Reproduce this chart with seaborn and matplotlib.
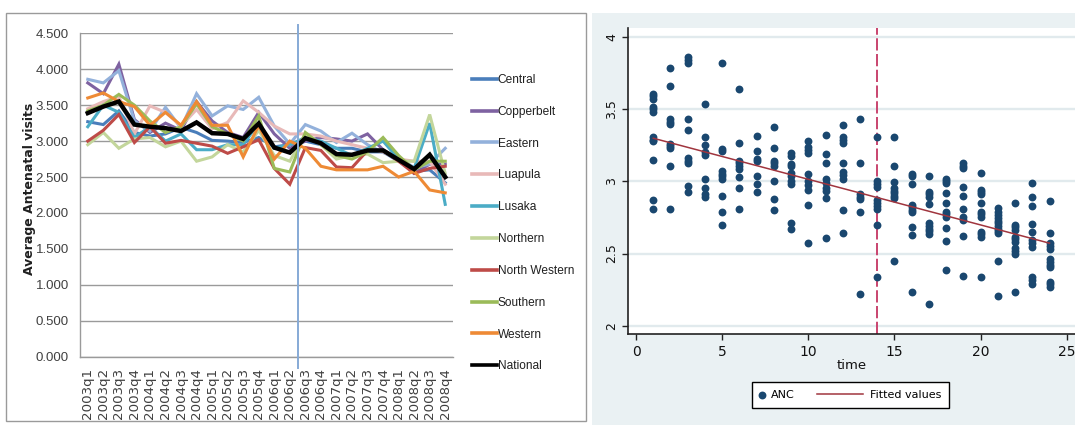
import numpy as np
import pandas as pd
import matplotlib
matplotlib.use("Agg")
import matplotlib.pyplot as plt
from matplotlib.patches import Rectangle
from matplotlib.lines import Line2D
from matplotlib.legend_handler import HandlerLine2D
import seaborn as sns

# ---------------- data: left panel (province lines) ----------------
quarters = ["2003q1", "2003q2", "2003q3", "2003q4", "2004q1", "2004q2", "2004q3", "2004q4",
            "2005q1", "2005q2", "2005q3", "2005q4", "2006q1", "2006q2", "2006q3", "2006q4",
            "2007q1", "2007q2", "2007q3", "2007q4", "2008q1", "2008q2", "2008q3", "2008q4"]

central = [3.27, 3.23, 3.42, 3.12, 3.07, 3.10, 3.19, 3.12, 3.01, 3.00, 2.98, 3.05,
           2.92, 2.95, 3.00, 2.95, 2.90, 2.90, 2.85, 2.85, 2.72, 2.58, 2.60, 2.42]
copperbelt = [3.81, 3.66, 4.07, 3.30, 3.12, 3.25, 3.15, 3.55, 3.28, 3.12, 3.05, 3.40,
              3.10, 2.90, 3.00, 3.05, 3.03, 3.00, 3.10, 2.88, 2.75, 2.55, 2.68, 2.68]
eastern = [3.86, 3.81, 3.98, 3.28, 3.14, 3.47, 3.18, 3.66, 3.35, 3.49, 3.44, 3.61,
           3.21, 2.96, 3.23, 3.14, 2.98, 3.11, 2.95, 2.84, 2.77, 2.63, 2.68, 2.90]
luapula = [3.45, 3.55, 3.62, 3.10, 3.49, 3.40, 3.21, 3.44, 3.17, 3.26, 3.56, 3.40,
           3.21, 3.10, 3.10, 3.07, 3.00, 2.95, 2.90, 2.85, 2.75, 2.72, 2.72, 2.40]
lusaka = [3.20, 3.50, 3.40, 3.05, 3.20, 3.00, 3.10, 2.88, 2.88, 2.95, 2.95, 3.25,
          2.90, 2.95, 3.05, 3.00, 2.90, 2.80, 2.90, 3.00, 2.75, 2.62, 3.25, 2.12]
northern = [2.95, 3.12, 2.90, 3.03, 3.05, 2.92, 3.00, 2.72, 2.78, 2.95, 2.85, 3.15,
            2.80, 2.72, 3.10, 2.95, 2.75, 2.80, 2.82, 2.70, 2.72, 2.72, 3.37, 2.55]
north_western = [3.00, 3.15, 3.37, 2.98, 3.20, 2.97, 3.01, 2.97, 2.93, 2.83, 2.92, 3.02,
                 2.62, 2.40, 2.91, 2.87, 2.64, 2.63, 2.87, 2.87, 2.72, 2.55, 2.62, 2.65]
southern = [3.42, 3.50, 3.65, 3.50, 3.28, 3.12, 3.20, 3.52, 3.20, 3.10, 3.00, 3.35,
            2.62, 2.57, 3.12, 2.95, 2.80, 2.75, 2.85, 3.05, 2.80, 2.60, 2.72, 2.72]
western = [3.60, 3.67, 3.55, 3.48, 3.22, 3.40, 3.22, 3.55, 3.22, 3.22, 2.78, 3.22,
           2.75, 3.00, 2.90, 2.65, 2.60, 2.60, 2.60, 2.65, 2.50, 2.58, 2.32, 2.28]
national = [3.39, 3.48, 3.55, 3.23, 3.20, 3.18, 3.14, 3.26, 3.11, 3.10, 3.03, 3.245,
            2.91, 2.84, 3.04, 2.97, 2.82, 2.81, 2.87, 2.87, 2.74, 2.61, 2.81, 2.50]

series_names = ["Central", "Copperbelt", "Eastern", "Luapula", "Lusaka", "Northern",
                "North Western", "Southern", "Western", "National"]
series_values = [central, copperbelt, eastern, luapula, lusaka, northern,
                 north_western, southern, western, national]
series_colors = ["#4A7EBB", "#7E62A1", "#93B1DB", "#E8B9B8", "#4BACC6", "#C3D69B",
                 "#BE4B48", "#9BBB59", "#EE8A35", "#000000"]
left_yticks = [0.0, 0.5, 1.0, 1.5, 2.0, 2.5, 3.0, 3.5, 4.0, 4.5]
intervention_quarter = 13.5  # between 2006q2 and 2006q3

# ---------------- data: right panel (scatter ANC vs time) ----------------
anc_t01 = [3.61, 3.59, 3.57, 3.52, 3.50, 3.48, 3.31, 3.29, 3.28, 3.15, 2.87, 2.81]
anc_t02 = [3.79, 3.66, 3.43, 3.415, 3.40, 3.26, 3.245, 3.23, 3.11, 2.81]
anc_t03 = [3.86, 3.84, 3.82, 3.43, 3.36, 3.16, 3.145, 3.13, 2.97, 2.93]
anc_t04 = [3.54, 3.31, 3.25, 3.205, 3.185, 3.02, 2.955, 2.915, 2.895]
anc_t05 = [3.82, 3.225, 3.21, 3.07, 3.055, 3.035, 3.02, 2.90, 2.79, 2.70]
anc_t06 = [3.64, 3.27, 3.145, 3.127, 3.11, 3.085, 3.03, 2.955, 2.81]
anc_t07 = [3.315, 3.21, 3.155, 3.14, 3.04, 2.985, 2.93]
anc_t08 = [3.375, 3.23, 3.145, 3.13, 3.11, 3.00, 2.875, 2.80]
anc_t09 = [3.20, 3.18, 3.12, 3.105, 3.06, 3.04, 3.00, 2.985, 2.71, 2.67]
anc_t10 = [3.28, 3.24, 3.22, 3.20, 3.05, 3.00, 2.976, 2.94, 2.84, 2.57]
anc_t11 = [3.32, 3.19, 3.13, 3.015, 2.99, 2.955, 2.935, 2.885, 2.61]
anc_t12 = [3.39, 3.31, 3.29, 3.27, 3.125, 3.065, 3.045, 3.02, 2.80, 2.64]
anc_t13 = [3.435, 3.13, 2.915, 2.895, 2.877, 2.785, 2.22]
anc_t14 = [3.31, 3.00, 2.98, 2.965, 2.87, 2.85, 2.83, 2.81, 2.70, 2.34]
anc_t15 = [3.31, 3.11, 2.995, 2.955, 2.935, 2.92, 2.90, 2.885, 2.45]
anc_t16 = [3.055, 3.04, 2.984, 2.837, 2.82, 2.80, 2.785, 2.687, 2.627, 2.235]
anc_t17 = [3.035, 2.93, 2.913, 2.895, 2.842, 2.71, 2.69, 2.673, 2.655, 2.636, 2.153]
anc_t18 = [3.02, 3.00, 2.988, 2.918, 2.853, 2.79, 2.773, 2.756, 2.68, 2.588, 2.387]
anc_t19 = [3.127, 3.108, 3.095, 2.964, 2.902, 2.81, 2.756, 2.733, 2.622, 2.345]
anc_t20 = [3.06, 2.94, 2.925, 2.911, 2.853, 2.79, 2.772, 2.756, 2.652, 2.634, 2.618, 2.336]
anc_t21 = [2.815, 2.79, 2.77, 2.745, 2.726, 2.71, 2.69, 2.673, 2.655, 2.64, 2.445, 2.205]
anc_t22 = [2.85, 2.70, 2.682, 2.664, 2.618, 2.60, 2.583, 2.537, 2.518, 2.495, 2.235]
anc_t23 = [2.987, 2.89, 2.83, 2.703, 2.648, 2.595, 2.576, 2.544, 2.338, 2.318, 2.288]
anc_t24 = [2.865, 2.64, 2.572, 2.553, 2.535, 2.46, 2.44, 2.424, 2.405, 2.306, 2.288, 2.265]
anc_lists = [anc_t01, anc_t02, anc_t03, anc_t04, anc_t05, anc_t06, anc_t07, anc_t08,
             anc_t09, anc_t10, anc_t11, anc_t12, anc_t13, anc_t14, anc_t15, anc_t16,
             anc_t17, anc_t18, anc_t19, anc_t20, anc_t21, anc_t22, anc_t23, anc_t24]

fit_time = [1, 24]
fit_values = [3.30, 2.572]
intervention_time = 14
right_xticks = [0, 5, 10, 15, 20, 25]
right_yticks = [2, 2.5, 3, 3.5, 4]
right_yticklabels = ["2", "2.5", "3", "3.5", "4"]

# ---------------- figure ----------------
W, H = 1075, 425
fig = plt.figure(figsize=(W / 100, H / 100), dpi=100)
fig.patch.set_facecolor("white")


def fx(px):
    return px / W


def fy(py):
    return 1 - py / H


# left chart frame
fig.patches.append(Rectangle((fx(6), fy(421)), fx(586) - fx(6), fy(13) - fy(421),
                             transform=fig.transFigure, facecolor="white",
                             edgecolor="#9a9a9a", linewidth=1.0, zorder=-10))
# right panel background (Stata style)
fig.patches.append(Rectangle((fx(592), 0), 1 - fx(592), fy(13.3),
                             transform=fig.transFigure, facecolor="#EAF1F3",
                             edgecolor="none", zorder=-10))

# ---------- left axes ----------
axL = fig.add_axes([fx(80), fy(356.7), fx(453) - fx(80), fy(33.3) - fy(356.7)])
axL.set_facecolor("none")
rows = []
for name, vals in zip(series_names, series_values):
    for i, v in enumerate(vals):
        rows.append({"series": name, "idx": i, "value": v})
dfL = pd.DataFrame(rows)

for name, col in zip(series_names, series_colors):
    sub = dfL[dfL["series"] == name]
    lw = 3.2 if name == "National" else 2.2
    sns.lineplot(data=sub, x="idx", y="value", ax=axL, color=col, linewidth=lw,
                 label=name, zorder=3 if name == "National" else 2,
                 solid_joinstyle="miter")

axL.set_xlim(-0.5, len(quarters) - 0.5)
axL.set_ylim(0, 4.5)
axL.set_yticks(left_yticks)
axL.set_yticklabels([f"{t:.3f}" for t in left_yticks], fontsize=9.5, color="#404040",
                    family=["Liberation Sans", "DejaVu Sans"])
axL.set_xticks(range(len(quarters)))
axL.set_xticklabels(quarters, rotation=90, fontsize=9.6, color="#404040")
axL.tick_params(axis="both", length=0)
axL.tick_params(axis="y", pad=8)
axL.tick_params(axis="x", pad=8)
axL.grid(axis="y", color="#9a9a9a", linewidth=1.0)
axL.set_axisbelow(True)
for s in ["top", "right"]:
    axL.spines[s].set_visible(False)
for s in ["left", "bottom"]:
    axL.spines[s].set_color("#9a9a9a")
    axL.spines[s].set_linewidth(1.0)
axL.set_xlabel("")
axL.set_ylabel("Average Antenatal visits", fontsize=9, fontweight="bold", color="#202020")
axL.yaxis.set_label_coords(-0.118, 0.52)
axL.plot([intervention_quarter, intervention_quarter], [-0.157, 4.615],
         color="#86AAD6", linewidth=1.4, clip_on=False, zorder=4)

legL = axL.legend(loc="upper left", bbox_to_anchor=(fx(472), fy(74)),
                  bbox_transform=fig.transFigure, frameon=False, borderpad=0,
                  borderaxespad=0, handlelength=2.1, handletextpad=0.05,
                  labelspacing=1.66,
                  prop={"family": ["Liberation Sans", "DejaVu Sans"], "size": 8.6})
for t in legL.get_texts():
    t.set_color("#202020")
for h in legL.get_lines():
    h.set_linewidth(2.6)

# ---------- right axes ----------
x0, x1 = -0.447, 25.48
y0, y1 = 1.940, 4.0624
axR = fig.add_axes([fx(628.3), fy(334.3), 1 - fx(628.3), fy(28.3) - fy(334.3)])
axR.set_facecolor("white")
t_all, v_all = [], []
for t, lst in enumerate(anc_lists, start=1):
    t_all += [t] * len(lst)
    v_all += lst
dfR = pd.DataFrame({"time": t_all, "ANC": v_all})
dfFit = pd.DataFrame({"time": fit_time, "fit": fit_values})

for yv in right_yticks:
    axR.axhline(yv, color="#E1EAED", linewidth=1.7, zorder=0)
axR.axvline(intervention_time, color="#C9446F", linewidth=1.4,
            linestyle=(0, (6.3, 1.8)), zorder=1)
sns.scatterplot(data=dfR, x="time", y="ANC", ax=axR, color="#1A476F", s=32,
                linewidth=0, label="ANC", zorder=3)
sns.lineplot(data=dfFit, x="time", y="fit", ax=axR, color="#A0353E", linewidth=1.1,
             label="Fitted values", zorder=4)

axR.set_xlim(x0, x1)
axR.set_ylim(y0, y1)
axR.set_xticks(right_xticks)
axR.set_xticklabels([str(t) for t in right_xticks], fontsize=10, color="#111111")
axR.set_yticks(right_yticks)
axR.set_yticklabels(right_yticklabels, fontsize=9, color="#111111", rotation=90,
                    va="center")
axR.tick_params(axis="both", length=4, width=1.0, color="#222222")
axR.tick_params(axis="x", pad=4)
axR.tick_params(axis="y", pad=3)
for s in ["top", "right"]:
    axR.spines[s].set_visible(False)
for s in ["left", "bottom"]:
    axR.spines[s].set_color("#222222")
    axR.spines[s].set_linewidth(1.2)
axR.set_xlabel("time", fontsize=9.5, color="#111111", labelpad=0)
axR.set_ylabel("")
axR.legend_.remove()


class LongLine(HandlerLine2D):
    def create_artists(self, legend, orig_handle, xdescent, ydescent, width, height,
                       fontsize, trans):
        ext = 4.2 * fontsize
        yy = (height - ydescent) / 2
        ln = Line2D([width - xdescent - ext, width - xdescent], [yy, yy])
        self.update_prop(ln, orig_handle, legend)
        ln.set_transform(trans)
        return [ln]


handles, labels = axR.get_legend_handles_labels()
fit_handle = handles[labels.index("Fitted values")]
legR = fig.legend(handles, labels, loc="center",
                  bbox_to_anchor=(fx(850.5), fy(395)), ncol=2, fontsize=8,
                  frameon=True, fancybox=False, edgecolor="black", facecolor="white",
                  framealpha=1, borderpad=0.7, handlelength=0.4, handletextpad=0.6,
                  columnspacing=5.8, scatterpoints=1,
                  handler_map={fit_handle: LongLine()})
legR.get_frame().set_linewidth(1.0)

fig.savefig("out.png", dpi=100)
